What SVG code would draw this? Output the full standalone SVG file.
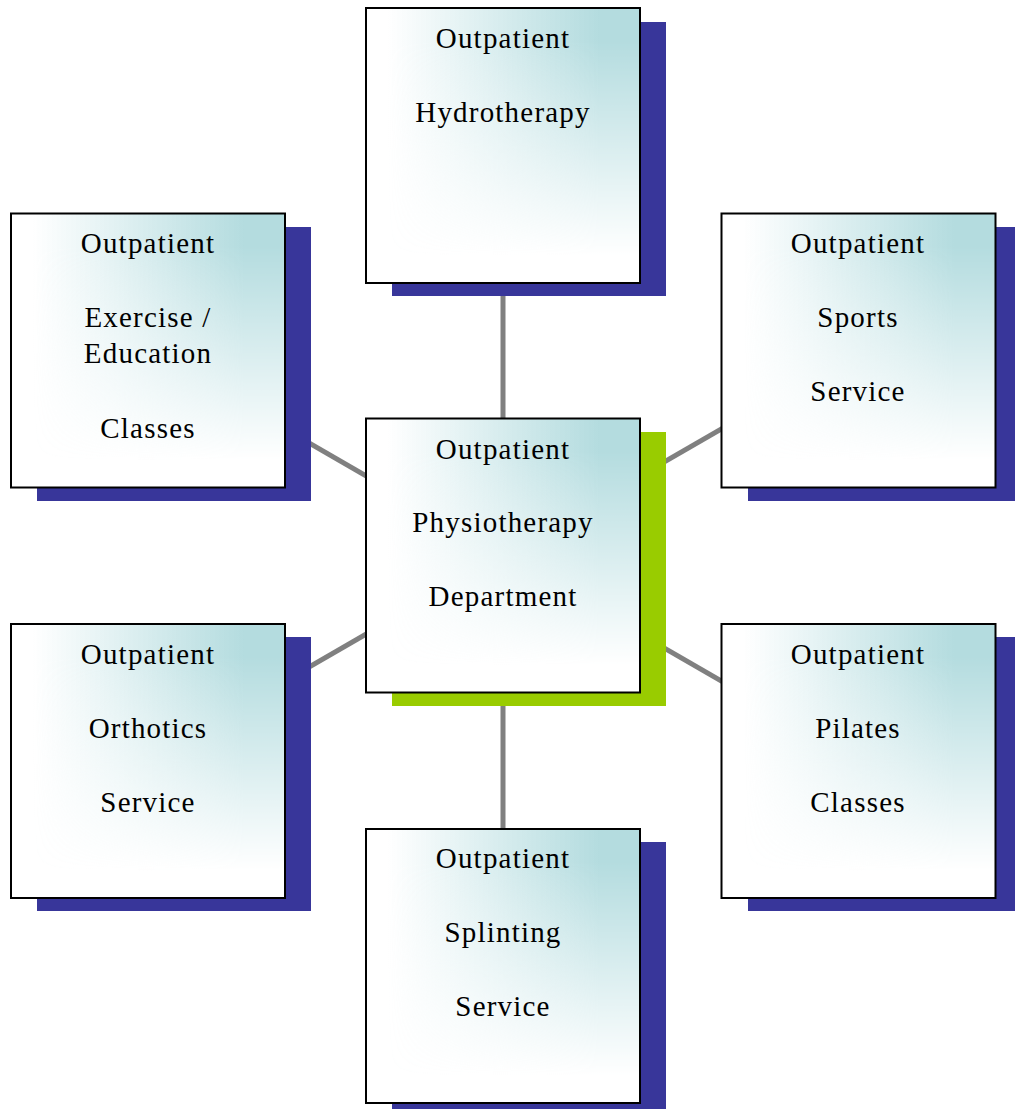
<svg xmlns="http://www.w3.org/2000/svg" width="1015" height="1109" viewBox="0 0 1015 1109">
<style>
.sh{fill:#38369a}
.shg{fill:#99cc00}
.base{fill:#ffffff}
.tint{fill:url(#hg)}
.frame{fill:none;stroke:#000;stroke-width:2}
.lbl{font-family:"Liberation Serif","Times New Roman",serif;font-size:29px;letter-spacing:1.2px;fill:#000;text-anchor:middle}
.con{stroke:#808080;stroke-width:5;fill:none}
</style>
<defs>
<linearGradient id="hg" x1="0" y1="0" x2="1" y2="0">
<stop offset="0.08" stop-color="#b4dcdf" stop-opacity="0"/>
<stop offset="0.85" stop-color="#b4dcdf" stop-opacity="1"/>
</linearGradient>
<linearGradient id="vg" x1="0" y1="0" x2="0" y2="1">
<stop offset="0.12" stop-color="#fff"/>
<stop offset="0.9" stop-color="#000"/>
</linearGradient>
<mask id="m" maskContentUnits="objectBoundingBox">
<rect x="0" y="0" width="1" height="1" fill="url(#vg)"/>
</mask>
</defs>
<g id="connectors">
<line class="con" x1="503" y1="555" x2="503" y2="145"/>
<line class="con" x1="503" y1="555" x2="503" y2="965"/>
<line class="con" x1="503" y1="555" x2="148" y2="350"/>
<line class="con" x1="503" y1="555" x2="858" y2="350"/>
<line class="con" x1="503" y1="555" x2="148" y2="760"/>
<line class="con" x1="503" y1="555" x2="858" y2="760"/>
</g>
<g id="node-hydrotherapy">
<rect class="sh" x="392" y="22" width="274" height="274"/>
<rect class="base" x="366" y="8" width="274" height="275"/>
<rect class="tint" x="366" y="8" width="274" height="275" mask="url(#m)"/>
<rect class="frame" x="366" y="8" width="274" height="275"/>
<text class="lbl" x="503" y="48">Outpatient</text>
<text class="lbl" x="503" y="122">Hydrotherapy</text>
</g>
<g id="node-exercise">
<rect class="sh" x="37" y="227" width="274" height="274"/>
<rect class="base" x="11" y="213.5" width="274" height="274"/>
<rect class="tint" x="11" y="213.5" width="274" height="274" mask="url(#m)"/>
<rect class="frame" x="11" y="213.5" width="274" height="274"/>
<text class="lbl" x="148" y="253">Outpatient</text>
<text class="lbl" x="148" y="327">Exercise /</text>
<text class="lbl" x="148" y="363">Education</text>
<text class="lbl" x="148" y="438">Classes</text>
</g>
<g id="node-sports">
<rect class="sh" x="748" y="227" width="274" height="274"/>
<rect class="base" x="721.5" y="213.5" width="274" height="274"/>
<rect class="tint" x="721.5" y="213.5" width="274" height="274" mask="url(#m)"/>
<rect class="frame" x="721.5" y="213.5" width="274" height="274"/>
<text class="lbl" x="858" y="253">Outpatient</text>
<text class="lbl" x="858" y="327">Sports</text>
<text class="lbl" x="858" y="401">Service</text>
</g>
<g id="node-center">
<rect class="shg" x="392" y="432" width="274" height="274"/>
<rect class="base" x="366" y="418.5" width="274" height="274"/>
<rect class="tint" x="366" y="418.5" width="274" height="274" mask="url(#m)"/>
<rect class="frame" x="366" y="418.5" width="274" height="274"/>
<text class="lbl" x="503" y="458.5">Outpatient</text>
<text class="lbl" x="503" y="532">Physiotherapy</text>
<text class="lbl" x="503" y="605.5">Department</text>
</g>
<g id="node-orthotics">
<rect class="sh" x="37" y="637" width="274" height="274"/>
<rect class="base" x="11" y="624" width="274" height="274"/>
<rect class="tint" x="11" y="624" width="274" height="274" mask="url(#m)"/>
<rect class="frame" x="11" y="624" width="274" height="274"/>
<text class="lbl" x="148" y="663.5">Outpatient</text>
<text class="lbl" x="148" y="737.5">Orthotics</text>
<text class="lbl" x="148" y="811.5">Service</text>
</g>
<g id="node-pilates">
<rect class="sh" x="748" y="637" width="274" height="274"/>
<rect class="base" x="721.5" y="624" width="274" height="274"/>
<rect class="tint" x="721.5" y="624" width="274" height="274" mask="url(#m)"/>
<rect class="frame" x="721.5" y="624" width="274" height="274"/>
<text class="lbl" x="858" y="663.5">Outpatient</text>
<text class="lbl" x="858" y="737.5">Pilates</text>
<text class="lbl" x="858" y="811.5">Classes</text>
</g>
<g id="node-splinting">
<rect class="sh" x="392" y="842" width="274" height="274"/>
<rect class="base" x="366" y="829" width="274" height="274"/>
<rect class="tint" x="366" y="829" width="274" height="274" mask="url(#m)"/>
<rect class="frame" x="366" y="829" width="274" height="274"/>
<text class="lbl" x="503" y="868">Outpatient</text>
<text class="lbl" x="503" y="942">Splinting</text>
<text class="lbl" x="503" y="1016">Service</text>
</g>
</svg>
